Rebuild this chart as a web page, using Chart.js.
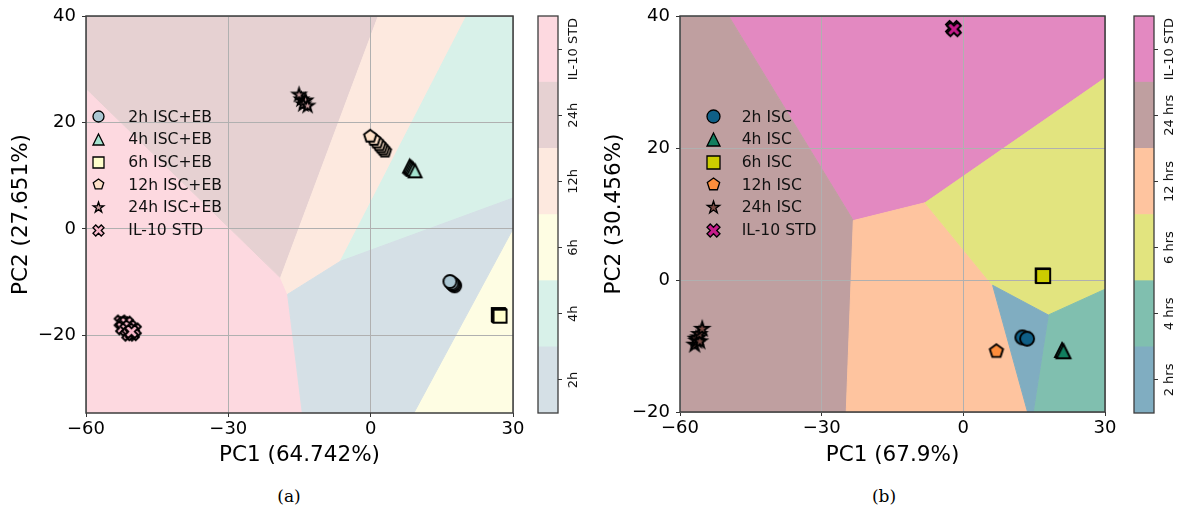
<!DOCTYPE html>
<html>
<head>
<meta charset="utf-8">
<script src="https://cdn.jsdelivr.net/npm/chart.js@4.4.1/dist/chart.umd.min.js"></script>
<style>
  html, body { margin: 0; padding: 0; background: #fff; }
  #fig { position: relative; width: 1178px; height: 514px; overflow: hidden; background: #fff; }
  .panel { position: absolute; top: 0; width: 530px; height: 470px; }
  .cbar { position: absolute; width: 399px; height: 50px; transform-origin: 0 0; transform: rotate(-90deg); }
  .cap { position: absolute; top: 486px; width: 60px; text-align: center;
         font-family: 'DejaVu Serif', serif; font-size: 17px; color: #000; }
</style>
</head>
<body>
<div id="fig">
  <div class="panel" style="left:0px"><canvas id="pcaA" width="530" height="470"></canvas></div>
  <div class="cbar" style="left:537px; top:414px"><canvas id="cbarA" width="399" height="50"></canvas></div>
  <div class="panel" style="left:594px"><canvas id="pcaB" width="530" height="470"></canvas></div>
  <div class="cbar" style="left:1133px; top:414px"><canvas id="cbarB" width="399" height="50"></canvas></div>
  <div class="cap" style="left:259px">(a)</div>
  <div class="cap" style="left:854px">(b)</div>
</div>
<script>
// ---------- axes ----------
const X_TICKS = [-60, -30, 0, 30];
const Y_TICKS = [-20, 0, 20, 40];
const A_X_RANGE = [-60, 30];
const A_Y_RANGE = [-34.6, 40];
const B_X_RANGE = [-60, 30];
const B_Y_RANGE = [-20, 40];

// ---------- class names ----------
const A_CLASSES = ['2h ISC+EB', '4h ISC+EB', '6h ISC+EB', '12h ISC+EB', '24h ISC+EB', 'IL-10 STD'];
const B_CLASSES = ['2h ISC', '4h ISC', '6h ISC', '12h ISC', '24h ISC', 'IL-10 STD'];
const A_CBAR_LABELS = ['2h', '4h', '6h', '12h', '24h', 'IL-10 STD'];
const B_CBAR_LABELS = ['2 hrs', '4 hrs', '6 hrs', '12 hrs', '24 hrs', 'IL-10 STD'];
const MARKERS = ['circle', 'triangle', 'square', 'pentagon', 'star', 'x'];

// ---------- PCA scores, panel (a) ----------
const A_2H  = [[17.7, -10.7], [17.5, -10.5], [17.3, -10.4], [17.1, -10.2], [16.7, -9.9]];
const A_4H  = [[8.2, 11.8], [8.45, 11.6], [8.7, 11.4], [8.95, 11.2], [9.35, 10.9]];
const A_6H  = [[26.9, -16.1], [27.0, -16.2], [27.1, -16.3], [27.27, -16.4]];
const A_12H = [[3.0, 14.6], [2.6, 15.0], [2.2, 15.4], [1.8, 15.8], [1.3, 16.3], [0.7, 16.8], [-0.1, 17.4]];
const A_24H = [[-14.6, 24.3], [-14.0, 23.9], [-13.7, 24.1], [-14.2, 23.4], [-15.1, 25.2], [-13.3, 23.1]];
const A_STD = [[-52.6, -17.5], [-52.0, -17.8], [-51.5, -17.7], [-52.3, -18.6], [-51.4, -18.9],
               [-50.8, -18.4], [-51.0, -19.8], [-50.2, -19.7], [-49.8, -19.0], [-50.4, -19.3]];

// ---------- PCA scores, panel (b) ----------
const B_2H  = [[12.5, -8.7], [13.5, -8.9]];
const B_4H  = [[20.9, -10.6], [21.2, -10.8]];
const B_6H  = [[16.8, 0.7], [16.9, 0.6]];
const B_12H = [[7.0, -10.8]];
const B_24H = [[-56.9, -9.8], [-56.5, -9.2], [-56.1, -8.7], [-56.6, -8.9], [-55.8, -9.3], [-55.9, -8.2], [-55.3, -7.4]];
const B_STD = [[-2.2, 38.2], [-2.0, 38.0]];

// ---------- decision regions (vertices in PC1/PC2 space) ----------
const A_REGION_2H  = [[-17.5, -12.3], [-6.4, -6.1], [30, 5.8], [30, 0], [9.1, -34.6], [-14.4, -34.6]];
const A_REGION_4H  = [[20.2, 40], [30, 40], [30, 5.8], [-6.4, -6.1]];
const A_REGION_6H  = [[30, 0], [30, -34.6], [9.1, -34.6]];
const A_REGION_12H = [[1.6, 40], [20.2, 40], [-6.4, -6.1], [-17.5, -12.3], [-19.0, -9.2]];
const A_REGION_24H = [[-60, 40], [1.6, 40], [-19.0, -9.2], [-60, 26.4]];
const A_REGION_STD = [[-60, 26.4], [-19.0, -9.2], [-17.5, -12.3], [-14.4, -34.6], [-60, -34.6]];

const B_REGION_2H  = [[6.2, -0.8], [18.0, -5.3], [14.8, -20], [13.6, -20]];
const B_REGION_4H  = [[18.0, -5.3], [30, -1.4], [30, -20], [14.8, -20]];
const B_REGION_6H  = [[-8.1, 11.7], [30, 30.6], [30, -1.4], [18.0, -5.3], [6.2, -0.8]];
const B_REGION_12H = [[-23.3, 9.0], [-8.1, 11.7], [6.2, -0.8], [13.6, -20], [-24.8, -20]];
const B_REGION_24H = [[-60, 40], [-49.7, 40], [-23.3, 9.0], [-24.8, -20], [-60, -20]];
const B_REGION_STD = [[-49.7, 40], [30, 40], [30, 30.6], [-8.1, 11.7], [-23.3, 9.0]];

// ---------- styles ----------
const A_REGION_COLORS = ['#d5e0e6', '#d8f1e9', '#fefde3', '#fde9df', '#e6d1d2', '#fdd9e0'];
const B_REGION_COLORS = ['#80adc1', '#80bfaf', '#e2e47f', '#fec49f', '#bf9fa0', '#e389c1'];
const A_POINT_COLORS  = ['#abc6d2', '#a4e3cf', '#ffffcc', '#fde0c8', '#cc9ea0', '#f9b9cb'];
const B_POINT_COLORS  = ['#0f5f87', '#127f5f', '#cccc00', '#fd8d3c', '#7b4b45', '#c51b8a'];

const FONT = 'DejaVu Sans';
Chart.defaults.font.family = FONT;

const fmt = v => (v < 0 ? '\u2212' + Math.abs(v) : String(v));

// filled marker glyphs, centred in a small canvas
function markerIcon(shape, half, fill, lw) {
  const pad = Math.ceil(lw) + 2;
  const n = Math.ceil(2 * (half + pad));
  const c = document.createElement('canvas');
  c.width = n; c.height = n;
  const g = c.getContext('2d');
  const m = n / 2, r = half;
  g.beginPath();
  if (shape === 'circle') {
    g.arc(m, m, r, 0, Math.PI * 2);
  } else if (shape === 'square') {
    g.rect(m - r, m - r, 2 * r, 2 * r);
  } else if (shape === 'triangle') {
    g.moveTo(m, m - r); g.lineTo(m + r, m + r); g.lineTo(m - r, m + r); g.closePath();
  } else if (shape === 'pentagon' || shape === 'star') {
    const k = shape === 'star' ? 10 : 5;
    for (let i = 0; i < k; i++) {
      const a = -Math.PI / 2 + i * 2 * Math.PI / k;
      const rr = (shape === 'star' && i % 2) ? r * 0.381966 : r;
      g.lineTo(m + rr * Math.cos(a), m + rr * Math.sin(a));
    }
    g.closePath();
  } else {
    const v = [[-0.25, -0.5], [0, -0.25], [0.25, -0.5], [0.5, -0.25], [0.25, 0], [0.5, 0.25],
               [0.25, 0.5], [0, 0.25], [-0.25, 0.5], [-0.5, 0.25], [-0.25, 0], [-0.5, -0.25]];
    v.forEach(([px, py]) => g.lineTo(m + px * 2 * r, m + py * 2 * r));
    g.closePath();
  }
  g.fillStyle = fill; g.fill();
  g.lineWidth = lw; g.strokeStyle = '#000'; g.lineJoin = 'miter'; g.stroke();
  return c;
}

// scores over grid, frame, and the in-axes legend
const overlayPlugin = {
  id: 'overlay',
  beforeDatasetDraw(chart, args) {
    if (chart.data.datasets[args.index].isScore) return false;
  },
  afterDraw(chart, args, opts) {
    const {ctx, chartArea: ca} = chart;
    const metas = chart.getSortedVisibleDatasetMetas();
    ctx.save();
    ctx.beginPath(); ctx.rect(ca.left - 8, ca.top - 8, ca.width + 16, ca.height + 16); ctx.clip();
    for (let i = metas.length - 1; i >= 0; i--) {
      if (chart.data.datasets[metas[i].index].isScore) metas[i].controller.draw();
    }
    ctx.restore();

    ctx.save();
    ctx.strokeStyle = '#3c3c3c'; ctx.lineWidth = 1.5;
    ctx.strokeRect(ca.left, ca.top, ca.width, ca.height);
    ctx.restore();

    if (opts.items) {
      ctx.save();
      ctx.font = '15.6px ' + FONT; ctx.fillStyle = '#111';
      ctx.textBaseline = 'middle'; ctx.textAlign = 'left';
      opts.items.forEach((it, i) => {
        const x = ca.left + opts.left;
        const y = ca.top + opts.top + i * opts.step;
        ctx.drawImage(it.icon, Math.round(x - it.icon.width / 2), Math.round(y - it.icon.height / 2));
        ctx.fillText(it.text, x + opts.gap, y + 1);
      });
      ctx.restore();
    }
  }
};

const framePlugin = {
  id: 'frame',
  afterDraw(chart) {
    const {ctx, chartArea: ca} = chart;
    ctx.save();
    ctx.strokeStyle = '#3c3c3c'; ctx.lineWidth = 1.3;
    ctx.strokeRect(ca.left, ca.top, ca.width, ca.height);
    ctx.restore();
  }
};

function buildPca(id, cfg) {
  const regionSets = cfg.regions.map((poly, i) => ({
    type: 'line',
    data: [...poly, poly[0]].map(([x, y]) => ({x, y})),
    fill: 'shape',
    backgroundColor: cfg.regionColors[i],
    borderColor: cfg.regionColors[i],
    borderWidth: 1,
    pointRadius: 0,
    tension: 0,
    order: 10
  }));
  const scoreSets = cfg.scores.map((pts, i) => ({
    type: 'scatter',
    label: cfg.classes[i],
    data: pts.map(([x, y]) => ({x, y})),
    pointStyle: markerIcon(MARKERS[i], cfg.markerHalf, cfg.pointColors[i], 1.9),
    pointRadius: 7,
    isScore: true,
    order: 0
  }));
  const items = cfg.classes.map((t, i) => ({
    text: t,
    icon: markerIcon(MARKERS[i], cfg.legendHalf, cfg.pointColors[i], 1.3)
  }));
  const tickFont = {family: FONT, size: 18};
  return new Chart(document.getElementById(id), {
    type: 'scatter',
    data: {datasets: [...regionSets, ...scoreSets]},
    options: {
      responsive: false, animation: false, events: [], devicePixelRatio: 1,
      layout: {padding: {left: 0, top: 16, right: cfg.padRight, bottom: 0}, autoPadding: false},
      plugins: {
        legend: {display: false}, tooltip: {enabled: false},
        overlay: {items, left: cfg.legendLeft, top: 100.7, step: 22.66, gap: cfg.legendGap}
      },
      scales: {
        x: {
          type: 'linear', position: 'bottom', min: cfg.xRange[0], max: cfg.xRange[1],
          afterBuildTicks: s => { s.ticks = X_TICKS.map(v => ({value: v})); },
          afterFit: s => { s.height = cfg.xAxisHeight; s.paddingLeft = 0; s.paddingRight = 0; },
          ticks: {callback: v => fmt(v), font: tickFont, color: '#000', padding: 2, maxRotation: 0, autoSkip: false},
          grid: {color: '#b0b0b0', lineWidth: 1, z: 1, tickColor: '#333', tickLength: 4, tickWidth: 1},
          border: {display: false},
          title: {display: true, text: cfg.xTitle, color: '#000', font: {family: FONT, size: 21.5}, padding: {top: 0, bottom: 2}}
        },
        y: {
          type: 'linear', position: 'left', min: cfg.yRange[0], max: cfg.yRange[1],
          afterBuildTicks: s => { s.ticks = Y_TICKS.map(v => ({value: v})); },
          afterFit: s => { s.width = 86; s.paddingTop = 0; s.paddingBottom = 0; },
          ticks: {callback: v => fmt(v), font: tickFont, color: '#000', padding: 6, autoSkip: false},
          grid: {color: '#b0b0b0', lineWidth: 1, z: 1, tickColor: '#333', tickLength: 4, tickWidth: 1},
          border: {display: false},
          title: {display: true, text: cfg.yTitle, color: '#000', font: {family: FONT, size: 21.5}, padding: {top: cfg.yTitlePad, bottom: 0}}
        }
      }
    },
    plugins: [overlayPlugin]
  });
}

function buildColorbar(id, colors, labels) {
  return new Chart(document.getElementById(id), {
    type: 'bar',
    data: {
      labels: [''],
      datasets: colors.map(c => ({data: [1], backgroundColor: c, borderWidth: 0, barPercentage: 1, categoryPercentage: 1}))
    },
    options: {
      indexAxis: 'y', responsive: false, animation: false, events: [], devicePixelRatio: 1,
      layout: {padding: {left: 1, right: 1, top: 1, bottom: 0}, autoPadding: false},
      plugins: {legend: {display: false}, tooltip: {enabled: false}},
      scales: {
        x: {
          type: 'linear', stacked: true, min: 0, max: labels.length, position: 'bottom',
          afterBuildTicks: s => { s.ticks = labels.map((_, i) => ({value: i + 0.5})); },
          afterFit: s => { s.height = 29; s.paddingLeft = 0; s.paddingRight = 0; },
          ticks: {callback: (v, i) => labels[i], font: {family: FONT, size: 13}, color: '#111', padding: 4, maxRotation: 0, minRotation: 0, autoSkip: false},
          grid: {drawOnChartArea: false, drawTicks: true, tickLength: 4, tickColor: '#333', tickWidth: 1},
          border: {display: false}
        },
        y: {stacked: true, display: false}
      }
    },
    plugins: [framePlugin]
  });
}

buildPca('pcaA', {
  xRange: A_X_RANGE, yRange: A_Y_RANGE, xAxisHeight: 57, padRight: 17, yTitlePad: 9,
  xTitle: 'PC1 (64.742%)', yTitle: 'PC2 (27.651%)',
  classes: A_CLASSES,
  scores: [A_2H, A_4H, A_6H, A_12H, A_24H, A_STD],
  regions: [A_REGION_2H, A_REGION_4H, A_REGION_6H, A_REGION_12H, A_REGION_24H, A_REGION_STD],
  regionColors: A_REGION_COLORS, pointColors: A_POINT_COLORS,
  markerHalf: 6.5, legendHalf: 5.5, legendLeft: 12.3, legendGap: 30
});

buildPca('pcaB', {
  xRange: B_X_RANGE, yRange: B_Y_RANGE, xAxisHeight: 58, padRight: 19, yTitlePad: 8,
  xTitle: 'PC1 (67.9%)', yTitle: 'PC2 (30.456%)',
  classes: B_CLASSES,
  scores: [B_2H, B_4H, B_6H, B_12H, B_24H, B_STD],
  regions: [B_REGION_2H, B_REGION_4H, B_REGION_6H, B_REGION_12H, B_REGION_24H, B_REGION_STD],
  regionColors: B_REGION_COLORS, pointColors: B_POINT_COLORS,
  markerHalf: 7, legendHalf: 6.5, legendLeft: 33.3, legendGap: 28.4
});

buildColorbar('cbarA', A_REGION_COLORS, A_CBAR_LABELS);
buildColorbar('cbarB', B_REGION_COLORS, B_CBAR_LABELS);
</script>
</body>
</html>
